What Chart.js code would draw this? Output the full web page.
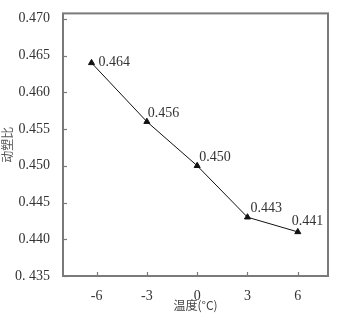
<!DOCTYPE html>
<html>
<head>
<meta charset="utf-8">
<script src="https://cdn.jsdelivr.net/npm/chart.js@4.4.0/dist/chart.umd.min.js"></script>
<style>
    body { margin: 0; background: #ffffff; }
    #caja { width: 341px; height: 318px; }
</style>
</head>
<body>
<div id="caja"><canvas id="grafico" width="341" height="318"></canvas></div>
<script>
let temperaturas = [-6.3, -3, 0, 3, 6];
let valores = [0.464, 0.456, 0.450, 0.443, 0.441];
let etiquetasValor = ['0.464', '0.456', '0.450', '0.443', '0.441'];
let ticksX = [-6, -3, 0, 3, 6];
let ticksY = [0.435, 0.440, 0.445, 0.450, 0.455, 0.460, 0.465, 0.470];
let textosY = ['0. 435', '0.440', '0.445', '0.450', '0.455', '0.460', '0.465', '0.470'];

let colorEje = '#7a7a7a';
let colorTexto = '#333333';
let fuenteSerif = '"Liberation Serif", "DejaVu Serif", serif';

// desplazamiento de cada etiqueta respecto a su punto
let desplazamientos = [[7, -1], [1, -8], [2, -8], [3, -9], [-6, -11]];

let puntos = [];
for (let i = 0; i < temperaturas.length; i++) {
    puntos.push({ x: temperaturas[i], y: valores[i] });
}

let marcoYTicks = {
    id: 'marcoYTicks',
    afterDraw: function(chart) {
        let ctx = chart.ctx;
        let area = chart.chartArea;
        let sx = chart.scales.x;
        let sy = chart.scales.y;
        ctx.save();
        ctx.strokeStyle = colorEje;
        ctx.lineWidth = 2;
        ctx.strokeRect(area.left, area.top, area.right - area.left, area.bottom - area.top);

        ctx.lineWidth = 1.2;
        for (let i = 0; i < ticksX.length; i++) {
            let px = Math.round(sx.getPixelForValue(ticksX[i])) + 0.5;
            ctx.beginPath();
            ctx.moveTo(px, area.bottom);
            ctx.lineTo(px, area.bottom - 4);
            ctx.stroke();
        }
        for (let i = 0; i < ticksY.length; i++) {
            let py = Math.round(sy.getPixelForValue(ticksY[i])) + 0.5;
            ctx.beginPath();
            ctx.moveTo(area.left, py);
            ctx.lineTo(area.left + 4, py);
            ctx.stroke();
        }

        ctx.fillStyle = colorTexto;
        ctx.font = '14px ' + fuenteSerif;
        ctx.textAlign = 'left';
        ctx.textBaseline = 'middle';
        let meta = chart.getDatasetMeta(0);
        for (let i = 0; i < meta.data.length; i++) {
            let p = meta.data[i];
            ctx.fillText(etiquetasValor[i], p.x + desplazamientos[i][0], p.y + desplazamientos[i][1]);
        }
        ctx.restore();
    }
};

let grafico = new Chart(document.getElementById('grafico'), {
    type: 'scatter',
    data: {
        datasets: [{
            data: puntos,
            showLine: true,
            borderColor: '#111111',
            borderWidth: 1,
            backgroundColor: '#111111',
            pointStyle: 'triangle',
            pointRadius: 3.5,
            pointHoverRadius: 3.5
        }]
    },
    options: {
        responsive: false,
        animation: false,
        layout: { padding: { top: 8, right: 13, left: 0, bottom: 0 } },
        plugins: {
            legend: { display: false },
            tooltip: { enabled: false }
        },
        scales: {
            x: {
                type: 'linear',
                min: -8,
                max: 7.8,
                afterBuildTicks: function(scale) {
                    scale.ticks = ticksX.map(function(v) { return { value: v }; });
                },
                afterFit: function(scale) {
                    scale.height = 42;
                },
                grid: { display: false },
                border: { display: false },
                ticks: {
                    color: colorTexto,
                    font: { family: fuenteSerif, size: 14 },
                    padding: 4,
                    maxRotation: 0,
                    callback: function(v) { return String(v); }
                },
                title: {
                    display: true,
                    text: '温度(°C)',
                    color: '#444444',
                    font: { family: '"Noto Sans CJK SC"', size: 12 },
                    padding: { top: 2, bottom: 5 }
                }
            },
            y: {
                type: 'linear',
                min: 0.435,
                max: 0.47073,
                afterBuildTicks: function(scale) {
                    scale.ticks = ticksY.map(function(v) { return { value: v }; });
                },
                afterFit: function(scale) {
                    scale.width = 63;
                },
                grid: { display: false },
                border: { display: false },
                ticks: {
                    color: colorTexto,
                    font: { family: fuenteSerif, size: 14 },
                    padding: 5,
                    callback: function(v) {
                        let idx = ticksY.indexOf(v);
                        return idx >= 0 ? textosY[idx] : '';
                    }
                },
                title: {
                    display: true,
                    text: '动塑比',
                    color: '#555555',
                    font: { family: '"Noto Sans CJK SC"', size: 12 },
                    padding: { top: 0, bottom: 0 }
                }
            }
        }
    },
    plugins: [marcoYTicks]
});
</script>
</body>
</html>
